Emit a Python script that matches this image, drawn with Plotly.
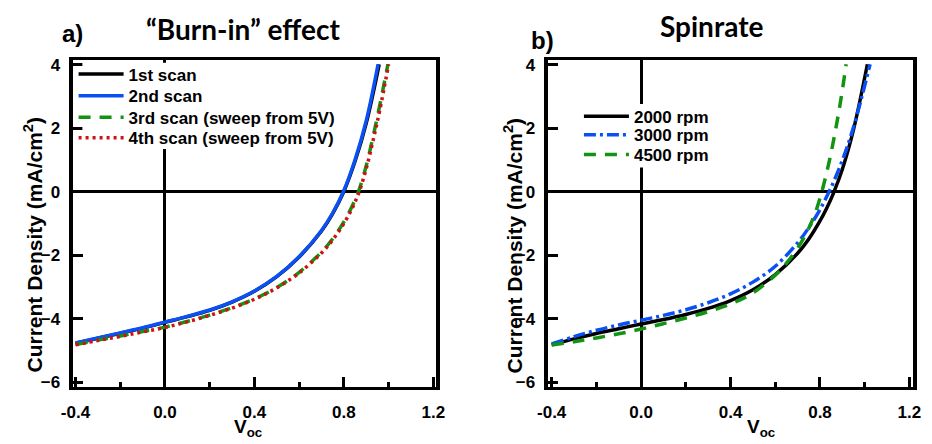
import plotly.graph_objects as go

# ---------------- data ----------------
# Panel a) "Burn-in" effect
a_scan1_v = [-0.4, -0.3, -0.2, -0.1, 0.0, 0.1, 0.2, 0.3, 0.4, 0.5, 0.6, 0.7, 0.75, 0.8, 0.85, 0.9, 0.958]
a_scan1_j = [-4.78, -4.62, -4.46, -4.30, -4.12, -3.94, -3.74, -3.48, -3.14, -2.68, -2.06, -1.24, -0.69, 0.01, 0.96, 2.16, 4.02]
a_scan2_v = [-0.4, -0.3, -0.2, -0.1, 0.0, 0.1, 0.2, 0.3, 0.4, 0.5, 0.6, 0.7, 0.75, 0.8, 0.85, 0.9, 0.953]
a_scan2_j = [-4.77, -4.61, -4.45, -4.29, -4.11, -3.93, -3.73, -3.47, -3.13, -2.67, -2.05, -1.22, -0.67, 0.04, 1.01, 2.24, 4.02]
a_scan3_v = [-0.4, -0.3, -0.2, -0.1, 0.0, 0.1, 0.2, 0.3, 0.4, 0.5, 0.6, 0.7, 0.75, 0.8, 0.84, 0.87, 0.9, 0.93, 0.96, 0.997]
a_scan3_j = [-4.82, -4.68, -4.55, -4.41, -4.27, -4.09, -3.89, -3.66, -3.38, -3.02, -2.54, -1.90, -1.48, -0.95, -0.41, 0.10, 0.82, 1.72, 2.71, 4.02]
a_scan4_v = [-0.4, -0.3, -0.2, -0.1, 0.0, 0.1, 0.2, 0.3, 0.4, 0.5, 0.6, 0.7, 0.75, 0.8, 0.84, 0.87, 0.9, 0.93, 0.96, 1.0]
a_scan4_j = [-4.83, -4.69, -4.56, -4.42, -4.28, -4.10, -3.90, -3.67, -3.39, -3.03, -2.56, -1.93, -1.52, -1.00, -0.48, 0.03, 0.73, 1.60, 2.55, 4.02]

# Panel b) Spinrate
b_2000_v = [-0.4, -0.3, -0.2, -0.1, 0.0, 0.1, 0.2, 0.3, 0.4, 0.5, 0.6, 0.7, 0.75, 0.8, 0.83, 0.86, 0.9, 0.95, 1.012]
b_2000_j = [-4.83, -4.64, -4.47, -4.32, -4.17, -4.03, -3.87, -3.68, -3.43, -3.09, -2.61, -1.94, -1.49, -0.92, -0.52, -0.05, 0.71, 1.96, 4.02]
b_3000_v = [-0.4, -0.3, -0.2, -0.1, 0.0, 0.1, 0.2, 0.3, 0.4, 0.5, 0.6, 0.7, 0.75, 0.8, 0.85, 0.9, 0.95, 1.024]
b_3000_j = [-4.80, -4.57, -4.37, -4.20, -4.05, -3.90, -3.72, -3.50, -3.22, -2.85, -2.35, -1.61, -1.13, -0.56, 0.14, 0.99, 2.04, 4.02]
b_4500_v = [-0.4, -0.3, -0.2, -0.1, 0.0, 0.1, 0.2, 0.3, 0.4, 0.5, 0.6, 0.65, 0.7, 0.75, 0.786, 0.815, 0.847, 0.873, 0.895, 0.917]
b_4500_j = [-4.83, -4.73, -4.61, -4.48, -4.33, -4.16, -3.98, -3.78, -3.54, -3.19, -2.63, -2.25, -1.78, -1.15, -0.52, 0.18, 1.14, 2.08, 2.98, 4.02]

x_ticks = [-0.4, 0.0, 0.4, 0.8, 1.2]
x_ticktext = ["-0.4", "0.0", "0.4", "0.8", "1.2"]
x_minor = [-0.2, 0.2, 0.6, 1.0]
y_ticks = [-6, -4, -2, 0, 2, 4]

labels_a = ["1st scan", "2nd scan", "3rd scan (sweep from 5V)", "4th scan (sweep from 5V)"]
labels_b = ["2000 rpm", "3000 rpm", "4500 rpm"]

# ---------------- figure ----------------
W, H = 932, 444
BLACK, BLUE, GREEN, RED = "#000000", "#0a50f5", "#129412", "#d11111"
LW = 3.5
FONT = "Liberation Sans, Arial, sans-serif"

fig = go.Figure()

def add(x, y, name, color, dash, xa, ya, legend, width=LW):
    fig.add_trace(go.Scatter(
        x=x, y=y, name=name, mode="lines",
        line=dict(color=color, width=width, dash=dash, shape="spline", smoothing=1.0),
        xaxis=xa, yaxis=ya, legend=legend))

add(a_scan1_v, a_scan1_j, labels_a[0], BLACK, "solid", "x", "y", "legend")
add(a_scan2_v, a_scan2_j, labels_a[1], BLUE, "solid", "x", "y", "legend2")
add(a_scan3_v, a_scan3_j, labels_a[2], GREEN, "12px,9px", "x", "y", "legend3")
add(a_scan4_v, a_scan4_j, labels_a[3], RED, "3px,4px", "x", "y", "legend4")

add(b_2000_v, b_2000_j, labels_b[0], BLACK, "solid", "x2", "y2", "legend5")
add(b_3000_v, b_3000_j, labels_b[1], BLUE, "12px,4px,3px,4px", "x2", "y2", "legend6")
add(b_4500_v, b_4500_j, labels_b[2], GREEN, "12px,9px", "x2", "y2", "legend7")

tickfont = dict(family=FONT, size=17, color="black", weight="bold")

def xaxis(domain, rng, anchor):
    return dict(domain=domain, range=rng, anchor=anchor,
                tickvals=x_ticks, ticktext=x_ticktext, tickfont=tickfont,
                ticks="inside", ticklen=10, tickwidth=3, tickcolor="black",
                minor=dict(tickvals=x_minor, ticks="inside", ticklen=5, tickwidth=3, tickcolor="black"),
                showline=True, linecolor="black", linewidth=3, mirror=True,
                showgrid=False, zeroline=True, zerolinecolor="black", zerolinewidth=3,
                ticklabelstandoff=8, fixedrange=True)

def xaxis_out(domain, rng, anchor, overlay):
    return dict(domain=domain, range=rng, anchor=anchor, overlaying=overlay,
                tickvals=x_ticks, showticklabels=False,
                ticks="outside", ticklen=7, tickwidth=3, tickcolor="black",
                minor=dict(tickvals=x_minor, ticks="outside", ticklen=5, tickwidth=3, tickcolor="black"),
                showline=False, showgrid=False, zeroline=False)

def yaxis(domain, anchor):
    return dict(domain=domain, range=[-6.16, 4.16], anchor=anchor,
                tickvals=y_ticks, tickfont=tickfont,
                ticks="inside", ticklen=10, tickwidth=3, tickcolor="black",
                showline=True, linecolor="black", linewidth=4, mirror=True,
                showgrid=False, zeroline=True, zerolinecolor="black", zerolinewidth=3,
                ticklabelstandoff=5, fixedrange=True)

ydom = [1 - 391 / H, 1 - 57 / H]
xdom1 = [62 / W, 434 / W]
xdom2 = [548 / W, 922 / W]

legfont = dict(family=FONT, size=17, color="black", weight="bold")

def leg(px, py):
    return dict(x=px / W, y=1 - py / H, xanchor="left", yanchor="middle",
                bgcolor="rgba(0,0,0,0)", font=legfont, tracegroupgap=0, itemwidth=45,
                itemclick=False, itemdoubleclick=False)

fig.update_layout(
    width=W, height=H, autosize=False,
    margin=dict(l=0, r=0, t=0, b=0),
    paper_bgcolor="white", plot_bgcolor="white",
    xaxis=xaxis(xdom1, [-0.413, 1.213], "y"),
    yaxis=yaxis(ydom, "x"),
    xaxis2=xaxis(xdom2, [-0.418, 1.217], "y2"),
    yaxis2=yaxis(ydom, "x2"),
    xaxis3=xaxis_out(xdom1, [-0.413, 1.213], "y", "x"),
    xaxis4=xaxis_out(xdom2, [-0.418, 1.217], "y2", "x2"),
    legend=leg(63, 72),
    legend2=leg(63, 94),
    legend3=leg(63, 116),
    legend4=leg(63, 137),
    legend5=leg(580, 115),
    legend6=leg(580, 134),
    legend7=leg(580, 154),
    showlegend=True,
)

# white legend backgrounds (hide zero lines behind legend text)
def white_box(x0, y0, x1, y1):
    fig.add_shape(type="rect", xref="paper", yref="paper",
                  x0=x0 / W, x1=x1 / W, y0=1 - y1 / H, y1=1 - y0 / H,
                  fillcolor="white", line=dict(width=0), layer="above")

white_box(72, 60, 350, 148)
white_box(584, 102, 760, 167)

ann_font_small = dict(family=FONT, size=24, color="black", weight="bold")
title_font = dict(family="Lato", size=28, color="black", weight="bold")
ylab_font = dict(family=FONT, size=21, color="black", weight="bold")
xlab_font = dict(family=FONT, size=19, color="black", weight="bold")

def ann(text, px, py, font, angle=0):
    fig.add_annotation(text=text, x=px / W, y=1 - py / H, xref="paper", yref="paper",
                       xanchor="center", yanchor="middle", showarrow=False,
                       font=font, textangle=angle)

ann("a)", 62, 30, ann_font_small)
ann("“Burn-in” effect", 236, 26, title_font)
ann("b)", 543, 37, ann_font_small)
ann("Spinrate", 716, 22, title_font)
ann("Current Density (mA/cm<sup>2</sup>)", 22, 246, ylab_font, -90)
ann("Current Density (mA/cm<sup>2</sup>)", 513, 246, ylab_font, -90)
ann("V<sub>oc</sub>", 241, 433, xlab_font)
ann("V<sub>oc</sub>", 766, 433, xlab_font)

fig.write_html("out.html")
